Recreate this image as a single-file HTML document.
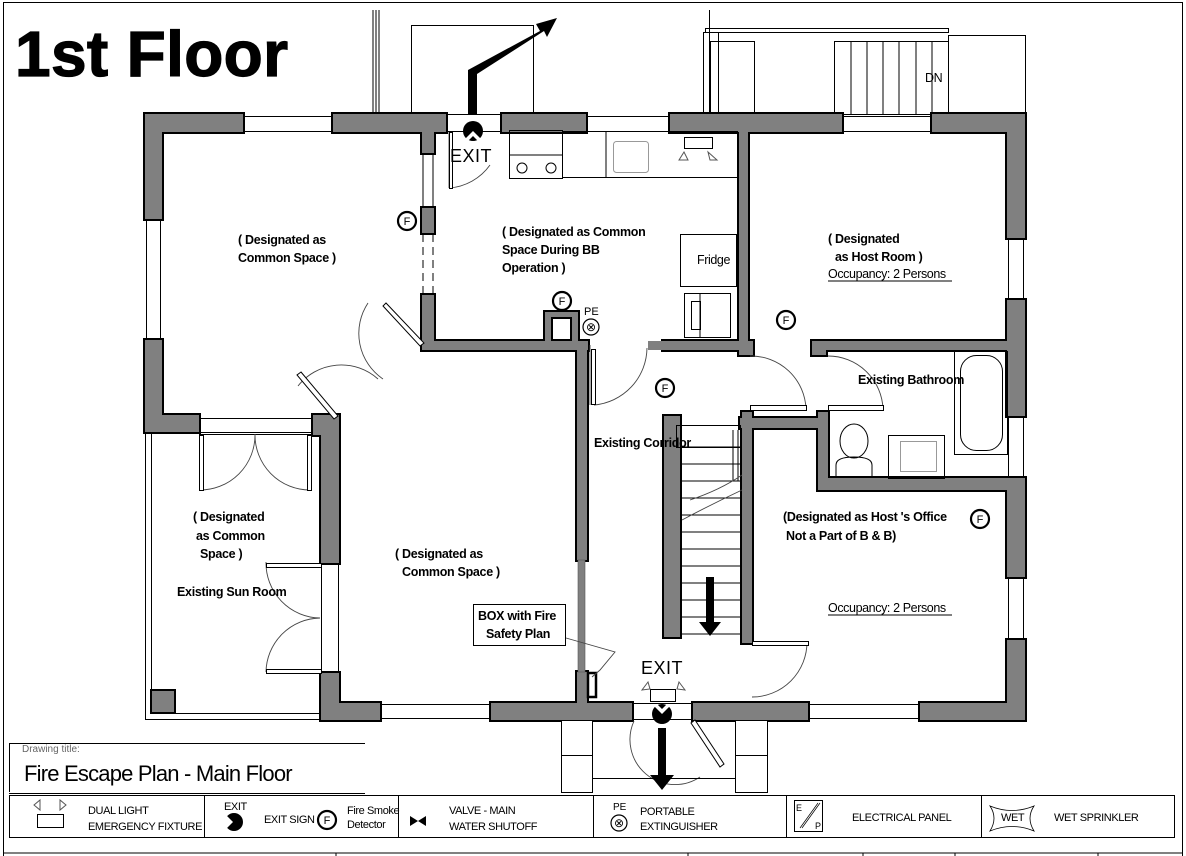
<!DOCTYPE html>
<html><head><meta charset="utf-8"><style>
html,body{margin:0;padding:0;background:#fff;}
svg{display:block;}
text{font-family:"Liberation Sans",Arial,sans-serif;fill:#000;}
.lb{font-size:12.5px;font-weight:bold;letter-spacing:-0.3px;}
.ln{font-size:12.5px;letter-spacing:-0.4px;}
.lg{font-size:11px;letter-spacing:-0.4px;}
</style></head><body>
<svg width="1186" height="856" viewBox="0 0 1186 856" xmlns="http://www.w3.org/2000/svg">
<defs>
<g id="walls">
<rect x="145" y="114" width="98" height="18"/>
<rect x="145" y="114" width="17" height="105"/>
<rect x="333" y="114" width="113" height="18"/>
<rect x="422" y="132" width="12" height="21"/>
<rect x="502" y="114" width="84" height="18"/>
<rect x="670" y="114" width="172" height="18"/>
<rect x="739" y="132" width="9" height="218"/>
<rect x="932" y="114" width="93" height="18"/>
<rect x="1007" y="114" width="18" height="124"/>
<rect x="1007" y="300" width="18" height="116"/>
<rect x="1007" y="478" width="18" height="99"/>
<rect x="1007" y="640" width="18" height="80"/>
<rect x="920" y="703" width="105" height="17"/>
<rect x="693" y="703" width="115" height="17"/>
<rect x="491" y="703" width="141" height="17"/>
<rect x="321" y="703" width="59" height="17"/>
<rect x="321" y="673" width="18" height="47"/>
<rect x="145" y="340" width="17" height="92"/>
<rect x="145" y="415" width="54" height="17"/>
<rect x="313" y="415" width="26" height="20"/>
<rect x="321" y="415" width="18" height="148"/>
<rect x="422" y="208" width="12" height="25"/>
<rect x="422" y="295" width="12" height="55"/>
<rect x="422" y="341" width="166" height="9"/>
<rect x="545" y="312" width="33" height="36"/>
<rect x="577" y="341" width="10" height="219"/>
<rect x="577" y="672" width="10" height="31"/>
<rect x="663" y="341" width="85" height="9"/>
<rect x="739" y="341" width="14" height="14"/>
<rect x="812" y="341" width="195" height="9"/>
<rect x="812" y="341" width="14" height="14"/>
<rect x="664" y="416" width="16" height="221"/>
<rect x="742" y="412" width="10" height="231"/>
<rect x="740" y="418" width="88" height="10"/>
<rect x="818" y="412" width="10" height="78"/>
<rect x="818" y="478" width="207" height="12"/>
</g>
</defs>
<rect x="3.5" y="2.5" width="1179" height="860" fill="none" stroke="#000" stroke-width="1"/>
<line x1="3" y1="853" x2="1183" y2="853" stroke="#000"/>
<g stroke="#000"><line x1="336" y1="853" x2="336" y2="856"/><line x1="688" y1="853" x2="688" y2="856"/><line x1="863" y1="853" x2="863" y2="856"/><line x1="955" y1="853" x2="955" y2="856"/><line x1="1098" y1="853" x2="1098" y2="856"/></g>

<text x="15" y="76" font-size="64" font-weight="bold" stroke="#000" stroke-width="1.2" letter-spacing="-1" textLength="272" lengthAdjust="spacing">1st Floor</text>

<g fill="none" stroke="#000" stroke-width="1">
<line x1="373" y1="10" x2="373" y2="114"/><line x1="376" y1="10" x2="376" y2="114"/><line x1="379" y1="10" x2="379" y2="114"/>
<rect x="411.5" y="25.5" width="122" height="89"/>
<line x1="709.5" y1="10" x2="709.5" y2="114"/>
<rect x="703.5" y="32.5" width="15" height="82"/>
<rect x="705.5" y="28.5" width="243" height="4"/>
<rect x="710.5" y="41.5" width="44" height="73"/>
<rect x="834.5" y="41.5" width="114" height="73"/>
<rect x="948.5" y="35.5" width="77" height="79"/>
</g>
<g stroke="#000" stroke-width="1">
<line x1="851" y1="41" x2="851" y2="114"/><line x1="867" y1="41" x2="867" y2="114"/><line x1="883" y1="41" x2="883" y2="114"/><line x1="899" y1="41" x2="899" y2="114"/><line x1="916" y1="41" x2="916" y2="114"/><line x1="932" y1="41" x2="932" y2="114"/>
</g>
<text x="925" y="82" class="ln" font-size="13">DN</text>
<path d="M468 114 L468 70 L540 31 L536 24 L557 18 L547 37 L544 31 L477 74 L477 114 Z" fill="#000"/>

<g fill="#fff" stroke="#000" stroke-width="1">
<rect x="243.5" y="116.5" width="90" height="15"/>
<rect x="586.5" y="116.5" width="84" height="15"/>
<rect x="842.5" y="116.5" width="90" height="15"/>
<rect x="1008.5" y="238.5" width="15" height="62"/>
<rect x="1008.5" y="416.5" width="15" height="62"/>
<rect x="1008.5" y="577.5" width="15" height="63"/>
<rect x="808.5" y="704.5" width="112" height="14"/>
<rect x="380.5" y="704.5" width="111" height="14"/>
<rect x="146.5" y="219.5" width="14" height="121"/>
<rect x="446.5" y="114.5" width="56" height="17"/>
<rect x="630.5" y="703.5" width="63" height="16"/>
</g>
<g fill="none" stroke="#000" stroke-width="1">
<rect x="145.5" y="432.5" width="176" height="287"/>
<rect x="151.5" y="432.5" width="170" height="281"/>
<line x1="199" y1="418.5" x2="313" y2="418.5"/>
<line x1="199" y1="434.5" x2="313" y2="434.5"/>
<line x1="321.5" y1="563" x2="321.5" y2="673"/>
<line x1="338.5" y1="563" x2="338.5" y2="673"/>
</g>
<rect x="151" y="690" width="24" height="23" fill="#808080" stroke="#000" stroke-width="2"/>

<use href="#walls" fill="#000" stroke="#000" stroke-width="4"/>
<use href="#walls" fill="#808080" stroke="none"/>
<rect x="552" y="318" width="19" height="22" fill="#fff" stroke="#000" stroke-width="2"/>
<rect x="578" y="560" width="7" height="112" fill="#808080" stroke="#555" stroke-width="0.6"/>
<rect x="648" y="341" width="15" height="9" fill="#808080"/>
<rect x="588" y="673" width="8" height="24" fill="#fff" stroke="#000" stroke-width="2.5"/>
<g stroke="#000" stroke-width="1" stroke-dasharray="8,5">
<line x1="423" y1="234" x2="423" y2="295"/><line x1="433" y1="234" x2="433" y2="295"/>
</g>
<g stroke="#000" stroke-width="1"><line x1="423" y1="153" x2="423" y2="208"/><line x1="433" y1="153" x2="433" y2="208"/></g>

<g fill="none" stroke="#000" stroke-width="1">
<rect x="509.5" y="130.5" width="53" height="48"/>
<line x1="509" y1="155" x2="563" y2="155"/>
<circle cx="522" cy="168" r="5"/><circle cx="551" cy="168" r="5"/>
<rect x="562.5" y="131.5" width="175" height="46"/>
<line x1="606" y1="131" x2="606" y2="178"/>
<rect x="613.5" y="141.5" width="35" height="31" rx="3" stroke="#999"/>
<rect x="684.5" y="137.5" width="28" height="11"/>
<path d="M684 152 L679 160 L688 160 Z M708 152 L717 160 L710 160 Z" stroke="#555"/>
<rect x="680.5" y="234.5" width="56" height="52"/>
<rect x="684.5" y="293.5" width="46" height="44"/>
<rect x="691.5" y="301.5" width="9" height="28"/>
<line x1="700" y1="294" x2="700" y2="337"/>
<rect x="954.5" y="351.5" width="53" height="103"/>
<rect x="960.5" y="355.5" width="42" height="95" rx="16"/>
<rect x="888.5" y="435.5" width="56" height="43"/>
<rect x="900.5" y="441.5" width="36" height="30" stroke="#999"/>
<ellipse cx="854" cy="441" rx="14" ry="17"/>
<path d="M836 478 L836 465 Q836 457 854 457 Q872 457 872 465 L872 478"/>
<rect x="676.5" y="425.5" width="64" height="22"/>
</g>
<g stroke="#000" stroke-width="1">
<line x1="680" y1="447" x2="742" y2="447"/><line x1="680" y1="464" x2="742" y2="464"/><line x1="680" y1="481" x2="742" y2="481"/><line x1="680" y1="498" x2="742" y2="498"/><line x1="680" y1="515" x2="742" y2="515"/><line x1="680" y1="532" x2="742" y2="532"/><line x1="680" y1="549" x2="742" y2="549"/><line x1="680" y1="566" x2="742" y2="566"/><line x1="680" y1="583" x2="742" y2="583"/><line x1="680" y1="600" x2="742" y2="600"/><line x1="680" y1="617" x2="742" y2="617"/><line x1="680" y1="634" x2="742" y2="634"/>
<line x1="733" y1="430" x2="733" y2="481"/><line x1="738" y1="430" x2="738" y2="481"/>
</g>
<path d="M706 577 L714 577 L714 622 L721 622 L710 636 L699 622 L706 622 Z" fill="#000"/>

<g fill="none" stroke="#444" stroke-width="0.9">
<path d="M449 132 L449 188 M449 188 A55 55 0 0 0 490 165"/>
<path d="M590 345 L590 405 M594 405 A58 58 0 0 0 647 348"/>
<path d="M750 356 A55 55 0 0 1 806 409"/>
<path d="M828 356 A55 55 0 0 1 883 409"/>
<path d="M752 642 L807 642 M807 642 A55 55 0 0 1 752 697"/>
<path d="M634 721 A45 45 0 0 0 700 777"/>
<path d="M298 386 A55 55 0 0 1 378 379 M368 303 A55 55 0 0 0 383 379"/>
<path d="M199 490 A55 55 0 0 0 255 434 M310 490 A55 55 0 0 1 255 434"/>
<path d="M266 562 A55 55 0 0 0 320 618 M266 672 A55 55 0 0 1 320 618"/>
<path d="M690 500 Q720 490 742 475 M682 520 Q710 505 742 490"/>
<path d="M566 638 L615 652 L600 670 L592 677"/>
</g>
<g fill="#fff" stroke="#000" stroke-width="1">
<rect x="591.5" y="349.5" width="4" height="55"/>
<rect x="750.5" y="405.5" width="56" height="5"/>
<rect x="828.5" y="405.5" width="55" height="5"/>
<rect x="752.5" y="641.5" width="56" height="4"/>
<rect x="199.5" y="435.5" width="4" height="55"/>
<rect x="307.5" y="435.5" width="4" height="55"/>
<rect x="266.5" y="563.5" width="55" height="4"/>
<rect x="266.5" y="669.5" width="55" height="4"/>
<path d="M301 372 L338 416 L334 419 L297 375 Z"/>
<path d="M386 303 L424 343 L420 346 L383 306 Z"/>
<path d="M695 720 L724 764 L720 767 L691 723 Z"/>
<rect x="449.5" y="132.5" width="3" height="56"/>
</g>

<g fill="#fff" stroke="#000" stroke-width="1">
<rect x="561.5" y="720.5" width="31" height="35"/><rect x="561.5" y="755.5" width="31" height="37"/>
<rect x="735.5" y="720.5" width="32" height="35"/><rect x="735.5" y="755.5" width="32" height="37"/>
<line x1="592" y1="778.5" x2="735" y2="778.5"/>
</g>
<path d="M658 728 L666 728 L666 775 L674 775 L662 790 L650 775 L658 775 Z" fill="#000"/>
<circle cx="473" cy="131" r="10" fill="#000"/><path d="M465 139 L473 131 L481 139 L478 141 L473 136 L468 141 Z" fill="#fff"/>
<circle cx="662" cy="714" r="10" fill="#000"/><path d="M654 706 L662 714 L670 706 L667 704 L662 709 L657 704 Z" fill="#fff"/>
<rect x="650.5" y="689.5" width="25" height="12" fill="#fff" stroke="#000"/>
<path d="M648 682 L642 690 L650 689 Z M679 682 L685 690 L677 689 Z" fill="#fff" stroke="#555"/>
<text x="450" y="162" font-size="18" letter-spacing="0.5">EXIT</text>
<text x="641" y="674" font-size="18" letter-spacing="0.5">EXIT</text>

<g fill="#fff" stroke="#000" stroke-width="2.2">
<circle cx="407" cy="221" r="9"/><circle cx="562" cy="301" r="9"/><circle cx="786" cy="320" r="9"/><circle cx="665" cy="388" r="9"/><circle cx="980" cy="519" r="9"/>
</g>
<g font-size="11" text-anchor="middle"><text x="407" y="225">F</text><text x="562" y="305">F</text><text x="786" y="324">F</text><text x="665" y="392">F</text><text x="980" y="523">F</text></g>
<circle cx="591" cy="327" r="8" fill="#fff" stroke="#000" stroke-width="1.2"/>
<text x="591" y="331" font-size="12" text-anchor="middle">⊗</text>
<text x="584" y="315" font-size="11">PE</text>

<text class="lb" x="238" y="244">( Designated as</text>
<text class="lb" x="238" y="262">Common Space )</text>
<text class="lb" x="502" y="236">( Designated as Common</text>
<text class="lb" x="502" y="254">Space During BB</text>
<text class="lb" x="502" y="272">Operation )</text>
<text class="ln" x="697" y="264" font-size="10.5">Fridge</text>
<text class="lb" x="828" y="243">( Designated</text>
<text class="lb" x="835" y="261">as Host Room )</text>
<text class="ln" x="828" y="278">Occupancy: 2 Persons</text>
<line x1="828" y1="281" x2="952" y2="281" stroke="#000"/>
<text class="lb" x="858" y="384">Existing Bathroom</text>
<text class="lb" x="594" y="447">Existing Corridor</text>
<text class="lb" x="783" y="521">(Designated as Host 's Office</text>
<text class="lb" x="786" y="540">Not a Part of B &amp; B)</text>
<text class="ln" x="828" y="612">Occupancy: 2 Persons</text>
<line x1="828" y1="615" x2="952" y2="615" stroke="#000"/>
<text class="lb" x="193" y="521">( Designated</text>
<text class="lb" x="196" y="540">as Common</text>
<text class="lb" x="200" y="558">Space )</text>
<text class="lb" x="177" y="596">Existing Sun Room</text>
<text class="lb" x="395" y="558">( Designated as</text>
<text class="lb" x="402" y="576">Common Space )</text>
<rect x="473.5" y="604.5" width="92" height="41" fill="#fff" stroke="#000"/>
<text class="lb" x="478" y="620">BOX with Fire</text>
<text class="lb" x="486" y="638">Safety Plan</text>

<path d="M9.5 792 L9.5 743.5 L365 743.5 M9 793.5 L365 793.5" fill="none" stroke="#000"/>
<text x="22" y="752" font-size="10" style="fill:#666">Drawing title:</text>
<text x="24" y="781" font-size="22" letter-spacing="-0.8">Fire Escape Plan - Main Floor</text>

<rect x="9.5" y="795.5" width="1165" height="42" fill="none" stroke="#000"/>
<g stroke="#000"><line x1="204.5" y1="796" x2="204.5" y2="837"/><line x1="398.5" y1="796" x2="398.5" y2="837"/><line x1="593.5" y1="796" x2="593.5" y2="837"/><line x1="786.5" y1="796" x2="786.5" y2="837"/><line x1="981.5" y1="796" x2="981.5" y2="837"/></g>
<path d="M34 805 L40 800 L40 810 Z M66 805 L60 800 L60 810 Z" fill="#fff" stroke="#555"/>
<rect x="37.5" y="814.5" width="26" height="13" fill="#fff" stroke="#000"/>
<text class="lg" x="88" y="814">DUAL LIGHT</text>
<text class="lg" x="88" y="830">EMERGENCY FIXTURE</text>
<text class="lg" x="224" y="810" font-size="10">EXIT</text>
<circle cx="234" cy="822" r="9" fill="#000"/><path d="M225 814 L233 822 L225 830 Z" fill="#fff"/>
<text class="lg" x="264" y="823">EXIT SIGN</text>
<circle cx="327" cy="820" r="9" fill="#fff" stroke="#000" stroke-width="2.2"/><text x="327" y="824" font-size="11" text-anchor="middle">F</text>
<text class="lg" x="347" y="814" font-size="10">Fire Smoke</text>
<text class="lg" x="347" y="828" font-size="10">Detector</text>
<path d="M410 816 L410 826 L418 821 Z M426 816 L426 826 L418 821 Z" fill="#000"/>
<text class="lg" x="449" y="814">VALVE - MAIN</text>
<text class="lg" x="449" y="830">WATER SHUTOFF</text>
<text x="613" y="810" font-size="10">PE</text>
<circle cx="619" cy="823" r="8" fill="#fff" stroke="#000" stroke-width="1.2"/><text x="619" y="827" font-size="12" text-anchor="middle">⊗</text>
<text class="lg" x="640" y="815">PORTABLE</text>
<text class="lg" x="640" y="830">EXTINGUISHER</text>
<rect x="794.5" y="800.5" width="28" height="31" fill="#fff" stroke="#000"/>
<text x="796" y="811" font-size="9">E</text><text x="815" y="829" font-size="9">P</text>
<path d="M800 828 L818 803 M802 828 L820 803" stroke="#000" stroke-width="0.7"/>
<text class="lg" x="852" y="821">ELECTRICAL PANEL</text>
<path d="M990 806 Q1012 815 1034 806 Q1026 818 1034 831 Q1012 822 990 831 Q998 818 990 806 Z" fill="#fff" stroke="#000" stroke-width="0.8"/>
<text class="lg" x="1001" y="821" font-size="10">WET</text>
<text class="lg" x="1054" y="821">WET SPRINKLER</text>
</svg>
</body></html>
